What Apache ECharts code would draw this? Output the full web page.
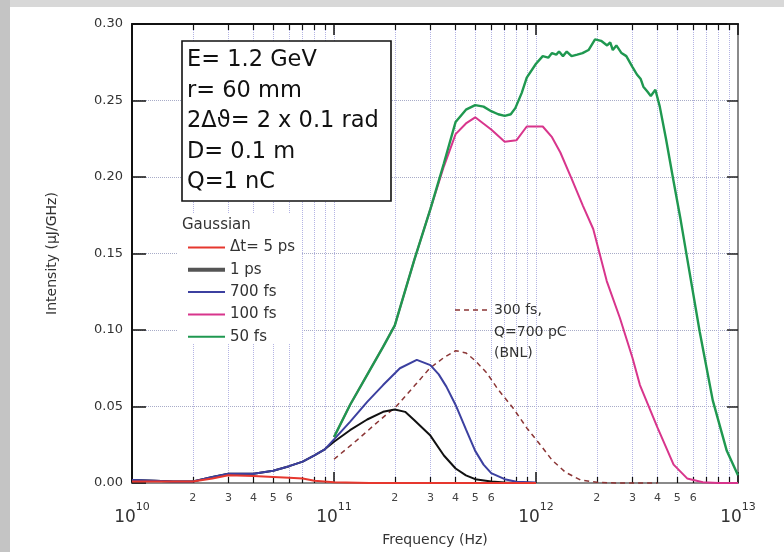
<!DOCTYPE html>
<html>
<head>
<meta charset="utf-8">
<script src="https://cdn.jsdelivr.net/npm/echarts@6/dist/echarts.min.js"></script>
<style>
html,body{margin:0;padding:0;background:#fff;}
#chart{width:784px;height:552px;}
</style>
</head>
<body>
<div id="chart"></div>
<script>
// ---------- data (frequency in Hz, intensity in µJ/GHz) ----------
const freq5ps = [1e10, 2e10, 2.5e10, 3e10, 4e10, 5e10, 6e10, 7e10, 8e10, 1e11, 1.5e11, 1e12];
const val5ps  = [0.001, 0.001, 0.003, 0.005, 0.0045, 0.004, 0.0035, 0.003, 0.0015, 0.0005, 0, 0];

const freq1ps = [1e10, 1.3e10, 1.6e10, 2e10, 2.5e10, 3e10, 4e10, 5e10, 6e10, 7e10, 8e10, 9e10, 1e11, 1.2e11, 1.46e11, 1.75e11, 2e11, 2.25e11, 2.5e11, 3e11, 3.5e11, 4e11, 4.5e11, 5e11, 6e11, 7e11, 1e12];
const val1ps  = [0.002, 0.0015, 0.001, 0.001, 0.004, 0.006, 0.006, 0.008, 0.011, 0.014, 0.018, 0.022, 0.027, 0.0345, 0.0415, 0.0465, 0.048, 0.0465, 0.041, 0.031, 0.018, 0.0095, 0.005, 0.0025, 0.001, 0.0003, 0];

const freq700fs = [1e10, 1.3e10, 1.6e10, 2e10, 2.5e10, 3e10, 4e10, 5e10, 6e10, 7e10, 8e10, 9e10, 1e11, 1.2e11, 1.46e11, 1.75e11, 2.12e11, 2.57e11, 3e11, 3.3e11, 3.6e11, 4e11, 4.5e11, 5e11, 5.5e11, 6e11, 7e11, 8e11, 1e12];
const val700fs  = [0.002, 0.0015, 0.001, 0.001, 0.004, 0.006, 0.006, 0.008, 0.011, 0.014, 0.018, 0.022, 0.0285, 0.040, 0.053, 0.064, 0.075, 0.0805, 0.077, 0.071, 0.063, 0.051, 0.035, 0.021, 0.012, 0.0065, 0.0025, 0.0008, 0.0003];

const freq100fs = [1e11, 1.2e11, 1.5e11, 1.75e11, 2e11, 2.5e11, 3e11, 3.5e11, 4e11, 4.5e11, 5e11, 6e11, 7e11, 8e11, 9e11, 1.08e12, 1.2e12, 1.32e12, 1.5e12, 1.71e12, 1.92e12, 2.24e12, 2.6e12, 3e12, 3.27e12, 4e12, 4.8e12, 5.6e12, 6.7e12, 8e12, 1e13];
const val100fs  = [0.030, 0.051, 0.0735, 0.089, 0.103, 0.146, 0.179, 0.207, 0.228, 0.235, 0.239, 0.231, 0.223, 0.224, 0.233, 0.233, 0.226, 0.216, 0.199, 0.181, 0.166, 0.132, 0.108, 0.082, 0.064, 0.036, 0.012, 0.003, 0.0005, 0, 0];

const freq50fs = [1e11, 1.2e11, 1.5e11, 1.75e11, 2e11, 2.5e11, 3e11, 3.5e11, 4e11, 4.5e11, 5e11, 5.5e11, 6e11, 6.5e11, 7e11, 7.5e11, 7.9e11, 8.5e11, 9e11, 1e12, 1.08e12, 1.15e12, 1.2e12, 1.26e12, 1.3e12, 1.36e12, 1.42e12, 1.5e12, 1.6e12, 1.7e12, 1.82e12, 1.96e12, 2.1e12, 2.25e12, 2.33e12, 2.4e12, 2.5e12, 2.65e12, 2.8e12, 3e12, 3.16e12, 3.3e12, 3.4e12, 3.55e12, 3.7e12, 3.9e12, 4.1e12, 4.4e12, 4.77e12, 5.2e12, 5.6e12, 6.46e12, 7.5e12, 8.8e12, 1e13];
const val50fs  = [0.030, 0.051, 0.0735, 0.089, 0.103, 0.146, 0.179, 0.209, 0.236, 0.244, 0.247, 0.246, 0.243, 0.241, 0.240, 0.241, 0.245, 0.255, 0.265, 0.274, 0.279, 0.278, 0.281, 0.280, 0.282, 0.279, 0.282, 0.279, 0.280, 0.281, 0.283, 0.290, 0.289, 0.286, 0.288, 0.283, 0.286, 0.281, 0.279, 0.272, 0.267, 0.264, 0.259, 0.256, 0.253, 0.257, 0.246, 0.225, 0.199, 0.172, 0.147, 0.099, 0.054, 0.021, 0.005];

const freqBNL = [1e11, 1.3e11, 1.6e11, 2.05e11, 2.5e11, 2.98e11, 3.5e11, 4e11, 4.5e11, 5e11, 5.7e11, 6.5e11, 7.7e11, 9e11, 1.05e12, 1.2e12, 1.4e12, 1.66e12, 2e12, 2.5e12, 4e12];
const valBNL  = [0.0155, 0.028, 0.0385, 0.0506, 0.0635, 0.075, 0.082, 0.0865, 0.085, 0.080, 0.072, 0.061, 0.049, 0.036, 0.025, 0.015, 0.007, 0.002, 0.0005, 0, 0];

const seriesNames = ['Δt= 5 ps', '1 ps', '700 fs', '100 fs', '50 fs'];
const minorLabelFreqs = [2e10, 3e10, 4e10, 5e10, 6e10, 2e11, 3e11, 4e11, 5e11, 6e11, 2e12, 3e12, 4e12, 5e12, 6e12];
const yTicks = [0, 0.05, 0.10, 0.15, 0.20, 0.25, 0.30];
const infoText = ['E= 1.2 GeV', 'r= 60 mm', '2Δϑ= 2 x 0.1 rad', 'D= 0.1 m', 'Q=1 nC'];
const bnlText = ['300 fs,', 'Q=700 pC', '(BNL)'];

// ---------- chart ----------
const pairs = (xs, ys) => xs.map((x, i) => [x, ys[i]]);
const FONT = 'DejaVu Sans';
const gridColorV = '#b4b4e4';
const gridColorH = '#a8acc8';

const chart = echarts.init(document.getElementById('chart'), null, {renderer: 'canvas'});

function lineSeries(name, xs, ys, color, width, extra) {
  return Object.assign({
    name: name, type: 'line', xAxisIndex: 0, yAxisIndex: 0,
    data: pairs(xs, ys), symbol: 'none', showSymbol: false, smooth: false,
    clip: false, animation: false,
    lineStyle: {color: color, width: width}, itemStyle: {color: color}
  }, extra || {});
}

const option = {
  backgroundColor: '#ffffff',
  animation: false,
  grid: {left: 132, top: 24, right: 46, bottom: 66, containLabel: false},
  xAxis: [
    {
      type: 'log', logBase: 10, min: 1e10, max: 1e13, position: 'bottom',
      axisLine: {show: true, onZero: false, lineStyle: {color: '#8a8a8a', width: 2}},
      axisTick: {show: true, inside: true, length: 11, lineStyle: {color: '#111', width: 1.5}},
      minorTick: {show: true, splitNumber: 9, length: 6, lineStyle: {color: '#111', width: 1.2}},
      splitLine: {show: true, lineStyle: {color: gridColorV, type: 'dotted', width: 1}},
      minorSplitLine: {show: true, lineStyle: {color: gridColorV, type: 'dotted', width: 1}},
      axisLabel: {
        show: true, margin: 19, showMinLabel: true, showMaxLabel: true,
        formatter: v => '{b|10}{s|' + Math.round(Math.log10(v)) + '}',
        rich: {
          b: {fontFamily: FONT, fontSize: 17, color: '#333', verticalAlign: 'bottom', lineHeight: 24},
          s: {fontFamily: FONT, fontSize: 11, color: '#333', verticalAlign: 'top', lineHeight: 24}
        }
      },
      name: 'Frequency (Hz)', nameLocation: 'middle', nameGap: 50,
      nameTextStyle: {fontFamily: FONT, fontSize: 14, color: '#333'}
    },
    {
      type: 'log', logBase: 10, min: 1e10, max: 1e13, position: 'top',
      axisLine: {show: true, onZero: false, lineStyle: {color: '#111', width: 2}},
      axisTick: {show: true, inside: true, length: 11, lineStyle: {color: '#111', width: 1.5}},
      minorTick: {show: true, splitNumber: 9, length: 6, lineStyle: {color: '#111', width: 1.2}},
      splitLine: {show: false}, minorSplitLine: {show: false},
      axisLabel: {show: false}
    }
  ],
  yAxis: [
    {
      type: 'value', min: 0, max: 0.30, interval: 0.05, position: 'left',
      axisLine: {show: true, onZero: false, lineStyle: {color: '#111', width: 2}},
      axisTick: {show: true, inside: true, length: 14, lineStyle: {color: '#111', width: 1.5}},
      splitLine: {show: true, lineStyle: {color: gridColorH, type: 'dotted', width: 1}},
      axisLabel: {
        margin: 9, fontFamily: FONT, fontSize: 13, color: '#333',
        formatter: v => yTicks.some(t => Math.abs(t - v) < 1e-9) ? v.toFixed(2) : ''
      },
      name: 'Intensity (µJ/GHz)', nameLocation: 'middle', nameGap: 73, nameRotate: 90,
      nameTextStyle: {fontFamily: FONT, fontSize: 14, color: '#333'}
    },
    {
      type: 'value', min: 0, max: 0.30, interval: 0.05, position: 'right',
      axisLine: {show: true, onZero: false, lineStyle: {color: '#8a8a8a', width: 2}},
      axisTick: {show: true, inside: true, length: 11, lineStyle: {color: '#222', width: 1.5}},
      splitLine: {show: false}, axisLabel: {show: false}
    }
  ],
  legend: {
    orient: 'vertical', left: 186, top: 240, itemWidth: 37, itemHeight: 14, itemGap: 7.3,
    padding: 0, selectedMode: false,
    itemStyle: {opacity: 0, borderWidth: 0},
    textStyle: {fontFamily: FONT, fontSize: 15, color: '#333'},
    data: [
      {name: seriesNames[0]},
      {name: seriesNames[1], lineStyle: {color: '#555', width: 4}},
      {name: seriesNames[2]},
      {name: seriesNames[3]},
      {name: seriesNames[4]}
    ]
  },
  graphic: [
    {type: 'rect', left: 0, top: 0, shape: {width: 784, height: 7}, style: {fill: '#d8d8d8'}, z: 0, silent: true},
    {type: 'rect', left: 0, top: 0, shape: {width: 10, height: 552}, style: {fill: '#c4c4c4'}, z: 0, silent: true},
    {type: 'rect', shape: {x: 178, y: 214, width: 124, height: 130}, style: {fill: '#ffffff'}, z: 1, silent: true},
    {type: 'text', x: 182, y: 218, z: 11, silent: true,
     style: {text: 'Gaussian', fill: '#333', font: '15px "DejaVu Sans"', align: 'left', verticalAlign: 'top'}},
    {type: 'rect', shape: {x: 182, y: 41, width: 209, height: 160},
     style: {fill: '#ffffff', stroke: '#111', lineWidth: 1.6}, z: 10, silent: true},
    {type: 'text', x: 187, y: 45, z: 11, silent: true,
     style: {text: infoText.join('\n'), fill: '#111', font: '22.5px "DejaVu Sans"', lineHeight: 30.5, align: 'left', verticalAlign: 'top'}},
    {type: 'line', shape: {x1: 455, y1: 310, x2: 490, y2: 310}, z: 11, silent: true,
     style: {stroke: '#8b3535', lineWidth: 1.5, lineDash: [5, 4]}},
    {type: 'text', x: 494, y: 300, z: 11, silent: true,
     style: {text: bnlText.join('\n'), fill: '#333', font: '14px "DejaVu Sans"', lineHeight: 21.5, align: 'left', verticalAlign: 'top'}}
  ],
  series: [
    lineSeries('BNL 300 fs', freqBNL, valBNL, '#8b3535', 1.5, {lineStyle: {color: '#8b3535', width: 1.5, type: [5, 4]}, z: 2}),
    lineSeries(seriesNames[1], freq1ps, val1ps, '#111111', 2, {z: 3}),
    lineSeries(seriesNames[2], freq700fs, val700fs, '#3c40a0', 2, {z: 4}),
    lineSeries(seriesNames[3], freq100fs, val100fs, '#d8358c', 2, {z: 5}),
    lineSeries(seriesNames[4], freq50fs, val50fs, '#1f9850', 2.4, {z: 6}),
    lineSeries(seriesNames[0], freq5ps, val5ps, '#e6372e', 2, {z: 7}),
    {
      name: 'minor labels', type: 'line', data: [], xAxisIndex: 0, yAxisIndex: 0, silent: true,
      markLine: {
        silent: true, symbol: ['none', 'none'], animation: false,
        lineStyle: {color: 'rgba(0,0,0,0)', width: 0},
        label: {
          show: true, position: 'start', distance: 10, fontFamily: FONT, fontSize: 11, color: '#444',
          formatter: p => String(Math.round(p.value / Math.pow(10, Math.floor(Math.log10(p.value) + 1e-9))))
        },
        data: minorLabelFreqs.map(f => ({xAxis: f}))
      }
    }
  ]
};

chart.setOption(option);
</script>
</body>
</html>
